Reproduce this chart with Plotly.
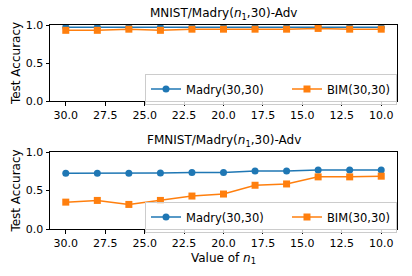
import plotly.graph_objects as go
from plotly.subplots import make_subplots

n1 = [30, 28, 26, 24, 22, 20, 18, 16, 14, 12, 10]
mnist_madry = [0.97, 0.97, 0.97, 0.97, 0.97, 0.97, 0.97, 0.97, 0.97, 0.97, 0.97]
mnist_bim = [0.93, 0.93, 0.945, 0.93, 0.945, 0.945, 0.945, 0.945, 0.955, 0.945, 0.945]
fmnist_madry = [0.725, 0.725, 0.725, 0.728, 0.735, 0.735, 0.752, 0.752, 0.765, 0.765, 0.765]
fmnist_bim = [0.349, 0.371, 0.319, 0.371, 0.428, 0.454, 0.568, 0.585, 0.677, 0.677, 0.686]
x_ticks = [30.0, 27.5, 25.0, 22.5, 20.0, 17.5, 15.0, 12.5, 10.0]
y_ticks = [0.0, 0.5, 1.0]

BLUE = "#1f77b4"
ORANGE = "#ff7f0e"
FONT = "DejaVu Sans"
PAD = "\u00a0" * 5

fig = make_subplots(rows=2, cols=1)

def add(row, madry, bim, legend):
    fig.add_trace(go.Scatter(x=n1, y=madry, mode="lines+markers", name="Madry(30,30)" + PAD,
                             line=dict(color=BLUE, width=1.5),
                             marker=dict(symbol="circle", size=7, color=BLUE),
                             legend=legend), row=row, col=1)
    fig.add_trace(go.Scatter(x=n1, y=bim, mode="lines+markers", name="BIM(30,30)",
                             line=dict(color=ORANGE, width=1.5),
                             marker=dict(symbol="square", size=7, color=ORANGE),
                             legend=legend), row=row, col=1)

add(1, mnist_madry, mnist_bim, "legend")
add(2, fmnist_madry, fmnist_bim, "legend2")

axis_common = dict(showline=True, linecolor="black", linewidth=1, mirror=True,
                   ticks="outside", ticklen=3.5, tickcolor="black", showgrid=False,
                   zeroline=False, automargin=False,
                   tickfont=dict(family=FONT, size=11, color="black"))

for r in (1, 2):
    fig.update_xaxes(range=[31, 9], tickvals=x_ticks, tickformat=".1f", row=r, col=1, **axis_common)
    fig.update_yaxes(range=[0, 1], tickvals=y_ticks, tickformat=".1f", row=r, col=1,
                     title=dict(text="Test Accuracy", font=dict(family=FONT, size=12, color="black"), standoff=2),
                     **axis_common)

fig.update_xaxes(title=dict(text="Value of <i>n</i><sub>1</sub>", font=dict(family=FONT, size=12, color="black"), standoff=4), row=2, col=1)

top_dom = [1 - 76 / 204, 1]
bot_dom = [0, 1 - 127 / 204]
leg_common = dict(orientation="h", x=1, xanchor="right", yanchor="middle",
                  bgcolor="rgba(255,255,255,0.8)", bordercolor="#cccccc", borderwidth=1,
                  font=dict(family=FONT, size=11.5, color="black"),
                  tracegroupgap=0)
fig.update_layout(
    yaxis=dict(domain=top_dom),
    yaxis2=dict(domain=bot_dom),
    width=412, height=276,
    margin=dict(l=50, r=15, t=25, b=47, autoexpand=False),
    paper_bgcolor="white", plot_bgcolor="white",
    font=dict(family=FONT, size=11, color="black"),
    legend=dict(y=1 - (89 - 25) / 204, **leg_common),
    legend2=dict(y=1 - (217 - 25) / 204, **leg_common),
    annotations=[
        dict(text="MNIST/Madry(<i>n</i><sub>1</sub>,30)-Adv", x=0.5, y=top_dom[1], xref="paper", yref="paper",
             xanchor="center", yanchor="bottom", showarrow=False, yshift=1,
             font=dict(family=FONT, size=12, color="black")),
        dict(text="FMNIST/Madry(<i>n</i><sub>1</sub>,30)-Adv", x=0.5, y=bot_dom[1], xref="paper", yref="paper",
             xanchor="center", yanchor="bottom", showarrow=False, yshift=1,
             font=dict(family=FONT, size=12, color="black")),
    ],
)

fig.write_html("out.html", config={"displayModeBar": False},
               post_script="document.body.style.margin='0';document.body.style.overflow='hidden';")
